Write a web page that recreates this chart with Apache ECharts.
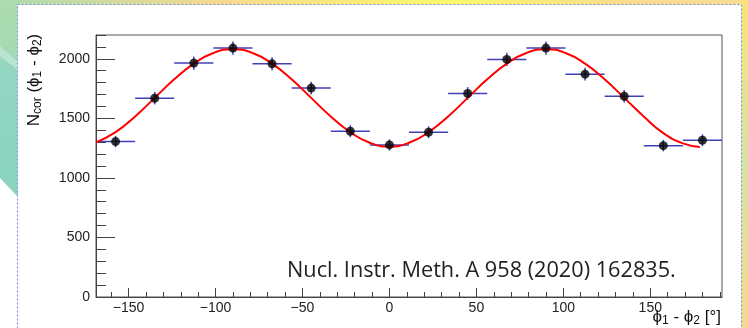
<!DOCTYPE html>
<html>
<head>
<meta charset="utf-8">
<script src="https://cdn.jsdelivr.net/npm/echarts@6/dist/echarts.min.js"></script>
<style>
  html, body { margin: 0; padding: 0; background: #fff; }
  #main { width: 748px; height: 328px; }
</style>
</head>
<body>
<div id="main"></div>
<script>
// bin centres (deg), measured counts and their errors
const phiCenters = [-157.5, -135, -112.5, -90, -67.5, -45, -22.5, 0, 22.5, 45, 67.5, 90, 112.5, 135, 157.5, 180];
const counts = [1305, 1669, 1964, 2090, 1958, 1754, 1392, 1277, 1383, 1709, 1995, 2090, 1871, 1686, 1271, 1316];
const countErrors = [48, 52, 55, 56, 55, 53, 50, 47, 50, 53, 56, 56, 54, 52, 48, 50];
const binHalfWidth = 11.25;

// fit curve
const fitX = [-168.75, -157.5, -146.25, -135, -123.75, -112.5, -101.25, -90, -78.75, -67.5, -56.25, -45, -33.75, -22.5, -11.25, 0,
  11.25, 22.5, 33.75, 45, 56.25, 67.5, 78.75, 90, 101.25, 112.5, 123.75, 135, 146.25, 157.5, 168.75, 178.5];
const fitY = [1298, 1384, 1516, 1672, 1828, 1960, 2049, 2080, 2049, 1960, 1828, 1672, 1516, 1384, 1295, 1264,
  1295, 1384, 1516, 1672, 1828, 1960, 2049, 2080, 2049, 1960, 1828, 1672, 1516, 1376, 1290, 1260];

// ticks
const xMajorTicks = [-150, -100, -50, 0, 50, 100, 150];
const xMinorTicks = [-160, -140, -130, -120, -110, -90, -80, -70, -60, -40, -30, -20, -10, 10, 20, 30, 40, 60, 70, 80, 90, 110, 120, 130, 140, 160, 170, 180, 190];
const yMajorTicks = [0, 500, 1000, 1500, 2000];
const yMinorTicks = [100, 200, 300, 400, 600, 700, 800, 900, 1100, 1200, 1300, 1400, 1600, 1700, 1800, 1900, 2100, 2200];

const chart = echarts.init(document.getElementById("main"));

const axisFont = "'Liberation Sans', Arial, sans-serif";
const axisLineStyle = { color: "#444", width: 1 };

const option = {
  animation: false,
  grid: {
    left: 96, right: 26, top: 35, bottom: 31,
    show: true, borderColor: "#555", borderWidth: 1,
    outerBoundsMode: "none"
  },
  graphic: [
    // decorative frame around the slide
    { type: "rect", z: -20, silent: true, shape: { x: 0, y: 0, width: 748, height: 6 },
      style: { fill: new echarts.graphic.LinearGradient(0, 0, 1, 0, [
        { offset: 0, color: "#acdbb0" }, { offset: 0.3, color: "#f7d98e" },
        { offset: 0.6, color: "#fcf86c" }, { offset: 0.85, color: "#f9da8e" }, { offset: 1, color: "#f6dc92" }]) } },
    { type: "rect", z: -20, silent: true, shape: { x: 741, y: 0, width: 7, height: 328 },
      style: { fill: new echarts.graphic.LinearGradient(0, 0, 0, 1, [
        { offset: 0, color: "#fbe27a" }, { offset: 0.5, color: "#d6e2a4" }, { offset: 1, color: "#f8d98e" }]) } },
    { type: "polygon", z: -20, silent: true, shape: { points: [[0, 0], [18, 0], [18, 197], [0, 178]] },
      style: { fill: new echarts.graphic.LinearGradient(0, 0, 0, 1, [
        { offset: 0, color: "#acdcae" }, { offset: 0.25, color: "#a6dab2" },
        { offset: 0.35, color: "#94d6c2" }, { offset: 1, color: "#88d3bf" }]) } },
    { type: "polygon", z: -19, silent: true, shape: { points: [[0, 46], [18, 62], [18, 70], [0, 56]] },
      style: { fill: "#b8e4d4" } },
    { type: "rect", z: -18, silent: true, shape: { x: 17.5, y: 4.5, width: 724, height: 330 },
      style: { fill: "#fff", stroke: "#6e90cc", lineWidth: 1, lineDash: [2, 2] } },
    // y title
    { type: "text", z: 10, x: 34, y: 80, rotation: Math.PI / 2,
      style: {
        text: "{m|N}{s|cor}{m| (ϕ}{s|1}{m| - ϕ}{s|2}{m|)}",
        align: "center", verticalAlign: "middle",
        rich: {
          m: { fontFamily: axisFont, fontSize: 17, fill: "#111", lineHeight: 22 },
          s: { fontFamily: axisFont, fontSize: 12, fill: "#111", lineHeight: 22, padding: [7, 0, 0, 0] }
        }
      } },
    // x title
    { type: "text", z: 10, x: 721, y: 317,
      style: {
        text: "{m|ϕ}{s|1}{m| - ϕ}{s|2}{m| [°]}",
        align: "right", verticalAlign: "middle",
        rich: {
          m: { fontFamily: axisFont, fontSize: 17, fill: "#111", lineHeight: 22 },
          s: { fontFamily: axisFont, fontSize: 12, fill: "#111", lineHeight: 22, padding: [7, 0, 0, 0] }
        }
      } },
    // reference
    { type: "text", z: 10, x: 287, y: 271,
      style: { text: "Nucl. Instr. Meth. A 958 (2020) 162835.", fontFamily: "'Open Sans', sans-serif",
        fontSize: 21.7, fill: "#222", align: "left", verticalAlign: "middle" } }
  ],
  xAxis: [
    {
      type: "value", min: -168.75, max: 191.25,
      axisLine: { onZero: false, lineStyle: axisLineStyle },
      axisTick: { inside: true, length: 9, customValues: xMajorTicks, lineStyle: axisLineStyle },
      axisLabel: {
        customValues: xMajorTicks, margin: 4, fontSize: 14, fontFamily: axisFont, color: "#222",
        formatter: (v) => (v < 0 ? "\u2212" + Math.abs(v) : String(v))
      },
      splitLine: { show: false }
    },
    {
      type: "value", min: -168.75, max: 191.25, position: "bottom",
      axisLine: { show: false, onZero: false },
      axisTick: { inside: true, length: 5, customValues: xMinorTicks, lineStyle: axisLineStyle },
      axisLabel: { show: false },
      splitLine: { show: false }
    }
  ],
  yAxis: [
    {
      type: "value", min: 0, max: 2200,
      axisLine: { show: true, onZero: false, lineStyle: axisLineStyle },
      axisTick: { show: true, inside: true, length: 19, customValues: yMajorTicks, lineStyle: axisLineStyle },
      axisLabel: {
        customValues: yMajorTicks, margin: 6, fontSize: 14, fontFamily: axisFont, color: "#222",
        formatter: (v) => String(v)
      },
      splitLine: { show: false }
    },
    {
      type: "value", min: 0, max: 2200, position: "left",
      axisLine: { show: false, onZero: false },
      axisTick: { show: true, inside: true, length: 10, customValues: yMinorTicks, lineStyle: axisLineStyle },
      axisLabel: { show: false },
      splitLine: { show: false }
    }
  ],
  series: [
    {
      name: "errors",
      type: "custom",
      z: 3,
      data: phiCenters.map((x, i) => [x, counts[i], countErrors[i]]),
      renderItem: (params, api) => {
        const x = api.value(0), y = api.value(1), e = api.value(2);
        const l = api.coord([x - binHalfWidth, y]);
        const r = api.coord([x + binHalfWidth, y]);
        const t = api.coord([x, y + e]);
        const b = api.coord([x, y - e]);
        const style = { stroke: "#4040b8", lineWidth: 1.5 };
        return {
          type: "group",
          children: [
            { type: "line", shape: { x1: l[0], y1: l[1], x2: r[0], y2: r[1] }, style },
            { type: "line", shape: { x1: t[0], y1: t[1], x2: b[0], y2: b[1] }, style }
          ]
        };
      }
    },
    {
      name: "fit",
      type: "line",
      z: 4,
      smooth: 0.5,
      showSymbol: false,
      lineStyle: { color: "#ff0000", width: 2 },
      data: fitX.map((x, i) => [x, fitY[i]])
    },
    {
      name: "data",
      type: "scatter",
      z: 5,
      symbolSize: 9,
      itemStyle: { color: "#000" },
      data: phiCenters.map((x, i) => [x, counts[i]])
    }
  ]
};

chart.setOption(option);
</script>
</body>
</html>
